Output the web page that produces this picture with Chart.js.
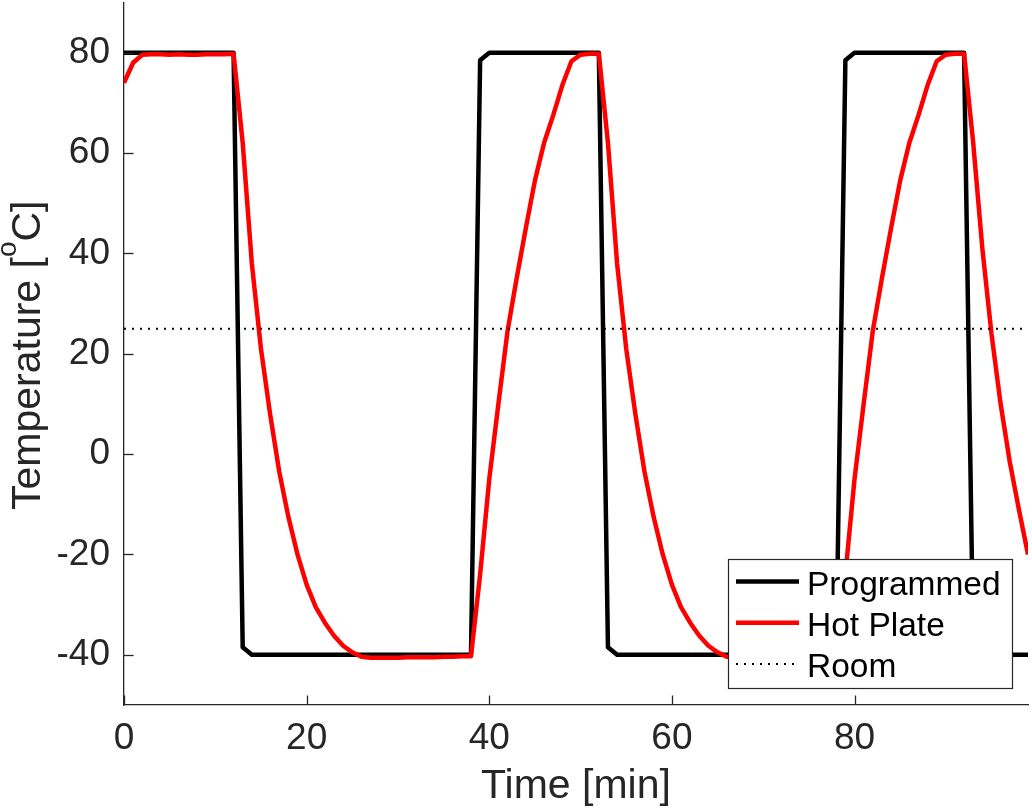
<!DOCTYPE html>
<html>
<head>
<meta charset="utf-8">
<script src="https://cdn.jsdelivr.net/npm/chart.js@4.4.0/dist/chart.umd.min.js"></script>
<style>
  html, body { margin: 0; padding: 0; background: #ffffff; overflow: hidden; }
  #wrap { width: 1032px; height: 812px; position: relative; }
</style>
</head>
<body>
<div id="wrap"><canvas id="c"></canvas></div>
<script>
// ---------------- data ----------------
const timeMin = [
  0, 1, 2, 3, 4, 5, 6, 7, 8, 9,
  10, 11, 12, 13, 14, 15, 16, 17, 18, 19,
  20, 21, 22, 23, 24, 25, 26, 27, 28, 29,
  30, 31, 32, 33, 34, 35, 36, 37, 38, 39,
  40, 41, 42, 43, 44, 45, 46, 47, 48, 49,
  50, 51, 52, 53, 54, 55, 56, 57, 58, 59,
  60, 61, 62, 63, 64, 65, 66, 67, 68, 69,
  70, 71, 72, 73, 74, 75, 76, 77, 78, 79,
  80, 81, 82, 83, 84, 85, 86, 87, 88, 89,
  90, 91, 92, 93, 94, 95, 96, 97, 98, 99
];

const programmed = [
  80, 80, 80, 80, 80, 80, 80, 80, 80, 80, 80, 80, 80,
  -38.5,
  -40, -40, -40, -40, -40, -40, -40, -40, -40, -40, -40, -40, -40,
  -40, -40, -40, -40, -40, -40, -40, -40, -40, -40, -40, -40,
  78.5,
  80, 80, 80, 80, 80, 80, 80, 80, 80, 80, 80, 80, 80,
  -38.5,
  -40, -40, -40, -40, -40, -40, -40, -40, -40, -40, -40, -40, -40,
  -40, -40, -40, -40, -40, -40, -40, -40, -40, -40, -40, -40,
  78.5,
  80, 80, 80, 80, 80, 80, 80, 80, 80, 80, 80, 80, 80,
  -38.5,
  -40, -40, -40, -40, -40, -40
];

const hotPlate = [
  74, 78, 79.6, 79.7, 79.7, 79.6, 79.7, 79.6, 79.6, 79.7, 79.7, 79.7, 79.8,
  62, 38, 21, 8, -3.5, -12.5, -20, -26, -30.5, -33.6, -36.2, -38.2, -39.5, -40.4,
  -40.6, -40.6, -40.6, -40.6, -40.5, -40.5, -40.5, -40.5, -40.4, -40.4, -40.3, -40.3,
  -24, -5, 10, 24.5, 35, 45, 54.5, 62, 67.5, 73.5, 78.3, 79.6, 79.8, 79.8,
  62, 38, 21, 8, -3.5, -12.5, -20, -26, -30.5, -33.6, -36.2, -38.2, -39.5, -40.4,
  -40.6, -40.6, -40.6, -40.5, -40.5, -40.5, -40.5, -40.4, -40.4, -40.4, -40.3, -40.3,
  -24, -5, 10, 24.5, 35, 45, 54.5, 62, 67.5, 73.5, 78.3, 79.6, 79.8, 79.8,
  62, 41, 24, 10, -1.5, -11, -20
];

const roomTemp = 25;
const roomTimes = [0, 99];

const seriesLabels = ['Programmed', 'Hot Plate', 'Room'];
const xTickValues = [0, 20, 40, 60, 80];
const yTickValues = [-40, -20, 0, 20, 40, 60, 80];
const xRange = [0, 99];
const yRange = [-50, 90];
const xTitle = 'Time [min]';
const yTitleParts = ['Temperature [', 'o', 'C]'];

// ---------------- styling ----------------
const FONT = '"Liberation Sans", Arial, Helvetica, sans-serif';
const INK = '#262626';

const inwardTicks = {
  id: 'inwardTicks',
  afterDatasetsDraw(chart) {
    const { ctx, chartArea: a, scales: { x, y } } = chart;
    ctx.save();
    ctx.strokeStyle = INK;
    ctx.lineWidth = 1.3;
    xTickValues.forEach(v => {
      const px = Math.round(x.getPixelForValue(v)) + 0.5;
      ctx.beginPath(); ctx.moveTo(px, a.bottom); ctx.lineTo(px, a.bottom - 9.5); ctx.stroke();
    });
    yTickValues.forEach(v => {
      const py = Math.round(y.getPixelForValue(v)) + 0.5;
      ctx.beginPath(); ctx.moveTo(a.left, py); ctx.lineTo(a.left + 9.5, py); ctx.stroke();
    });
    ctx.restore();
  }
};

const titlesAndLegend = {
  id: 'titlesAndLegend',
  afterDraw(chart) {
    const { ctx, chartArea: a } = chart;
    ctx.save();
    ctx.fillStyle = INK;

    // x title
    ctx.font = '41px ' + FONT;
    ctx.textAlign = 'center';
    ctx.textBaseline = 'alphabetic';
    ctx.fillText(xTitle, (a.left + a.right) / 2, a.bottom + 93);

    // y title with superscript
    ctx.save();
    ctx.translate(a.left - 84, (a.top + a.bottom) / 2 + 1.5);
    ctx.rotate(-Math.PI / 2);
    ctx.textAlign = 'left';
    ctx.font = '41px ' + FONT;
    const w1 = ctx.measureText(yTitleParts[0]).width;
    const w3 = ctx.measureText(yTitleParts[2]).width;
    ctx.font = '28px ' + FONT;
    const w2 = ctx.measureText(yTitleParts[1]).width;
    let xx = -(w1 + w2 + w3) / 2;
    ctx.font = '41px ' + FONT;
    ctx.fillText(yTitleParts[0], xx, 0);
    xx += w1;
    ctx.font = '28px ' + FONT;
    ctx.fillText(yTitleParts[1], xx, -24);
    xx += w2;
    ctx.font = '41px ' + FONT;
    ctx.fillText(yTitleParts[2], xx, 0);
    ctx.restore();

    // legend (inside, south-east)
    const w = 284, h = 129;
    const left = a.right - 16 - w;
    const top = a.bottom - 17 - h;
    ctx.fillStyle = '#ffffff';
    ctx.fillRect(left, top, w, h);
    ctx.strokeStyle = INK;
    ctx.lineWidth = 1.2;
    ctx.strokeRect(left + 0.5, top + 0.5, w, h);
    const dsets = chart.data.datasets;
    ctx.font = '33.5px ' + FONT;
    ctx.textAlign = 'left';
    ctx.textBaseline = 'alphabetic';
    dsets.forEach((ds, i) => {
      const ry = top + 22.5 + i * 41.2;
      ctx.save();
      ctx.strokeStyle = ds.borderColor;
      ctx.lineWidth = ds.borderWidth;
      ctx.setLineDash(ds.borderDash || []);
      ctx.beginPath();
      ctx.moveTo(left + 8, ry);
      ctx.lineTo(left + 71, ry);
      ctx.stroke();
      ctx.restore();
      ctx.fillStyle = '#000000';
      ctx.fillText(ds.label, left + 79, ry + 13.5);
    });
    ctx.restore();
  }
};

const toXY = (xs, ys) => xs.map((t, i) => ({ x: t, y: ys[i] }));

new Chart(document.getElementById('c'), {
  type: 'line',
  data: {
    datasets: [
      {
        label: seriesLabels[0],
        data: toXY(timeMin, programmed),
        borderColor: '#000000',
        borderWidth: 4.5,
        order: 3
      },
      {
        label: seriesLabels[1],
        data: toXY(timeMin, hotPlate),
        borderColor: '#ff0000',
        borderWidth: 4.5,
        order: 2
      },
      {
        label: seriesLabels[2],
        data: toXY(roomTimes, roomTimes.map(() => roomTemp)),
        borderColor: '#000000',
        borderWidth: 2,
        borderDash: [2, 6],
        order: 1
      }
    ]
  },
  options: {
    responsive: true,
    maintainAspectRatio: false,
    animation: false,
    devicePixelRatio: 1,
    layout: { padding: { top: 2.5, right: 4, bottom: 0, left: 0 } },
    elements: {
      point: { radius: 0, hoverRadius: 0 },
      line: { tension: 0, fill: false, borderJoinStyle: 'round', borderCapStyle: 'butt' }
    },
    plugins: {
      legend: { display: false },
      tooltip: { enabled: false }
    },
    scales: {
      x: {
        type: 'linear',
        min: xRange[0],
        max: xRange[1],
        grid: { display: false, drawTicks: false },
        border: { display: true, color: INK, width: 1.3 },
        ticks: { color: INK, font: { family: FONT, size: 37 }, padding: 12, maxRotation: 0 },
        afterBuildTicks: s => { s.ticks = xTickValues.map(v => ({ value: v })); },
        afterFit: s => { s.height = 107; s.paddingLeft = 0; s.paddingRight = 0; }
      },
      y: {
        type: 'linear',
        min: yRange[0],
        max: yRange[1],
        grid: { display: false, drawTicks: false },
        border: { display: true, color: INK, width: 1.3 },
        ticks: { color: INK, font: { family: FONT, size: 37 }, padding: 14 },
        afterBuildTicks: s => { s.ticks = yTickValues.map(v => ({ value: v })); },
        afterFit: s => { s.width = 124; s.paddingTop = 0; s.paddingBottom = 0; }
      }
    }
  },
  plugins: [inwardTicks, titlesAndLegend]
});
</script>
</body>
</html>
